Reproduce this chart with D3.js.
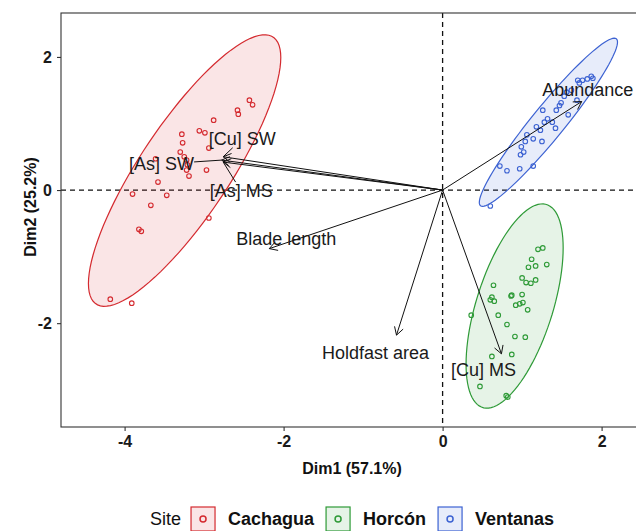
<!DOCTYPE html>
<html>
<head>
<meta charset="utf-8">
<script src="https://cdn.jsdelivr.net/npm/d3@7"></script>
<style>
  html, body { margin: 0; padding: 0; background: #fff; }
  svg { display: block; font-family: Arial, "Liberation Sans", sans-serif; }
</style>
</head>
<body>
<svg id="chart" width="636" height="531"></svg>
<script>
// ---- PCA individual scores, by site ----
const sites = ["Cachagua", "Horcón", "Ventanas"];

const cachaguaDim1 = [-2.43, -2.39, -2.58, -2.57, -2.88, -3.06, -2.99, -3.28, -3.27, -2.94, -3.30, -3.25, -3.22, -3.61,
  -3.21, -3.22, -3.19, -2.97, -3.58, -3.90, -3.47, -3.67, -2.94, -3.82, -3.79, -4.18, -3.91];
const cachaguaDim2 = [1.35, 1.28, 1.20, 1.14, 1.05, 0.89, 0.86, 0.84, 0.71, 0.63, 0.57, 0.50, 0.45, 0.47,
  0.38, 0.30, 0.21, 0.30, 0.12, -0.06, -0.08, -0.23, -0.42, -0.59, -0.62, -1.64, -1.70];

const horconDim1 = [1.20, 1.26, 1.12, 1.31, 1.08, 1.17, 1.00, 1.05, 1.11, 1.17, 0.64, 0.62, 0.60, 0.65, 0.86, 0.87,
  1.00, 0.92, 0.97, 1.01, 1.07, 0.36, 0.70, 0.81, 0.91, 1.04, 0.62, 0.87, 0.47, 0.80, 0.82];
const horconDim2 = [-0.89, -0.87, -1.04, -1.12, -1.16, -1.14, -1.32, -1.39, -1.40, -1.35, -1.43, -1.61, -1.65, -1.67,
  -1.59, -1.58, -1.57, -1.73, -1.71, -1.69, -1.80, -1.88, -1.88, -2.02, -2.20, -2.21, -2.50, -2.47, -2.95, -3.09, -3.11];

const ventanasDim1 = [0.60, 0.72, 0.81, 0.97, 1.14, 0.98, 1.02, 0.99, 1.04, 1.14, 1.25, 1.06, 1.18, 1.23, 1.28, 1.32,
  1.38, 1.42, 1.26, 1.43, 1.47, 1.49, 1.58, 1.53, 1.56, 1.62, 1.69, 1.72, 1.76, 1.82, 1.87, 1.89, 1.70];
const ventanasDim2 = [-0.24, 0.36, 0.29, 0.32, 0.36, 0.53, 0.57, 0.65, 0.73, 0.77, 0.73, 0.83, 0.95, 0.90, 1.02, 1.07,
  1.02, 0.93, 1.20, 1.20, 1.27, 1.31, 1.13, 1.41, 1.47, 1.50, 1.35, 1.61, 1.65, 1.67, 1.71, 1.68, 1.65];

// ---- Variable loadings (arrow tips) ----
const variables = ["Abundance", "[Cu] MS", "Holdfast area", "Blade length", "[As] SW", "[Cu] SW", "[As] MS"];
const loadingDim1 = [1.75, 0.74, -0.58, -2.18, -2.78, -2.76, -2.76];
const loadingDim2 = [1.33, -2.46, -2.18, -0.88, 0.45, 0.50, 0.42];

// ---- Axis ticks and titles ----
const xTicks = [-4, -2, 0, 2];
const yTicks = [-2, 0, 2];
const xTitle = "Dim1 (57.1%)";
const yTitle = "Dim2 (25.2%)";
const legendTitle = "Site";

// ---- Styling / layout ----
const siteColors = ["#D42A2F", "#2E9A37", "#3C62D2"];
const ellipseLevel = 0.95;
// label placement (pixel offset from the arrow tip), repelled-label style
const labelOffset = {
  "Abundance": [6, -12],
  "[Cu] MS": [-18, 16],
  "Holdfast area": [-21, 18],
  "Blade length": [17, -10],
  "[As] SW": [-60, 4],
  "[Cu] SW": [19, -18],
  "[As] MS": [18, 29]
};
const labelSegment = { "[As] SW": true, "[Cu] SW": true, "[As] MS": true };

const svg = d3.select("#chart");
const panel = { left: 61, top: 13, right: 641, bottom: 427 };

const x = d3.scaleLinear().domain([-4.8, 2.5]).range([panel.left, panel.left + 7.3 * 79.5]);
const y = d3.scaleLinear().domain([-3.56, 2.66]).range([panel.bottom, panel.top]);

const groups = [
  { site: sites[0], xs: cachaguaDim1, ys: cachaguaDim2, color: siteColors[0] },
  { site: sites[1], xs: horconDim1, ys: horconDim2, color: siteColors[1] },
  { site: sites[2], xs: ventanasDim1, ys: ventanasDim2, color: siteColors[2] }
];

// clip region for the plotting panel
svg.append("defs").append("clipPath").attr("id", "panelClip")
  .append("rect")
  .attr("x", panel.left).attr("y", panel.top)
  .attr("width", panel.right - panel.left).attr("height", panel.bottom - panel.top);

const plot = svg.append("g").attr("clip-path", "url(#panelClip)");

// reference lines at zero
plot.append("line")
  .attr("x1", panel.left).attr("x2", panel.right)
  .attr("y1", y(0)).attr("y2", y(0))
  .attr("stroke", "#111").attr("stroke-width", 1.3).attr("stroke-dasharray", "5,4");
plot.append("line")
  .attr("x1", x(0)).attr("x2", x(0))
  .attr("y1", panel.top).attr("y2", panel.bottom)
  .attr("stroke", "#111").attr("stroke-width", 1.3).attr("stroke-dasharray", "5,4");

// normal-theory concentration ellipse (same construction as stat_ellipse type "norm")
function ellipsePoints(xs, ys, level) {
  const n = xs.length;
  const mx = d3.mean(xs), my = d3.mean(ys);
  let sxx = 0, syy = 0, sxy = 0;
  for (let i = 0; i < n; i++) {
    const dx = xs[i] - mx, dy = ys[i] - my;
    sxx += dx * dx; syy += dy * dy; sxy += dx * dy;
  }
  sxx /= (n - 1); syy /= (n - 1); sxy /= (n - 1);
  const dfd = n - 1;
  // F(2, dfd) quantile in closed form
  const fq = dfd / 2 * (Math.pow(1 - level, -2 / dfd) - 1);
  const r = Math.sqrt(2 * fq);
  const a = Math.sqrt(sxx), b = sxy / a, c = Math.sqrt(Math.max(syy - b * b, 0));
  const pts = [];
  for (let k = 0; k <= 100; k++) {
    const t = (k / 100) * 2 * Math.PI;
    const u = Math.cos(t), v = Math.sin(t);
    pts.push([mx + r * u * a, my + r * (u * b + v * c)]);
  }
  return pts;
}

const ellLine = d3.line().x(d => x(d[0])).y(d => y(d[1]));

groups.forEach(g => {
  plot.append("path")
    .attr("d", ellLine(ellipsePoints(g.xs, g.ys, ellipseLevel)) + "Z")
    .attr("fill", g.color).attr("fill-opacity", 0.12)
    .attr("stroke", g.color).attr("stroke-width", 1.2);
});

// individual scores
groups.forEach(g => {
  plot.append("g").selectAll("circle")
    .data(d3.range(g.xs.length))
    .join("circle")
    .attr("cx", i => x(g.xs[i]))
    .attr("cy", i => y(g.ys[i]))
    .attr("r", 2.3)
    .attr("fill", "none")
    .attr("stroke", g.color)
    .attr("stroke-width", 1.1);
});

// variable arrows
const arrows = plot.append("g");
variables.forEach((name, i) => {
  const x0 = x(0), y0 = y(0);
  const x1 = x(loadingDim1[i]), y1 = y(loadingDim2[i]);
  arrows.append("line")
    .attr("x1", x0).attr("y1", y0).attr("x2", x1).attr("y2", y1)
    .attr("stroke", "#111").attr("stroke-width", 1);
  const ang = Math.atan2(y1 - y0, x1 - x0);
  const len = 9, spread = Math.PI / 6;
  const p1 = [x1 - len * Math.cos(ang - spread), y1 - len * Math.sin(ang - spread)];
  const p2 = [x1 - len * Math.cos(ang + spread), y1 - len * Math.sin(ang + spread)];
  arrows.append("path")
    .attr("d", `M${p1[0]},${p1[1]}L${x1},${y1}L${p2[0]},${p2[1]}`)
    .attr("fill", "none").attr("stroke", "#111").attr("stroke-width", 1);
});

// variable labels
const labels = plot.append("g");
variables.forEach((name, i) => {
  const tx = x(loadingDim1[i]), ty = y(loadingDim2[i]);
  const off = labelOffset[name];
  const cx = tx + off[0], cy = ty + off[1];
  const t = labels.append("text")
    .attr("x", cx).attr("y", cy)
    .attr("text-anchor", "middle")
    .attr("dominant-baseline", "central")
    .attr("font-size", 18)
    .attr("fill", "#1a1a1a")
    .text(name);
  if (labelSegment[name]) {
    const bb = t.node().getBBox();
    const vx = tx - cx, vy = ty - cy;
    const s = Math.min(
      vx !== 0 ? (bb.width / 2) / Math.abs(vx) : Infinity,
      vy !== 0 ? (bb.height / 2 - 1) / Math.abs(vy) : Infinity
    );
    if (s < 1) {
      labels.append("line")
        .attr("x1", cx + vx * s).attr("y1", cy + vy * s)
        .attr("x2", tx).attr("y2", ty)
        .attr("stroke", "#111").attr("stroke-width", 1);
    }
  }
});

// panel border
svg.append("rect")
  .attr("x", panel.left).attr("y", panel.top)
  .attr("width", panel.right - panel.left).attr("height", panel.bottom - panel.top)
  .attr("fill", "none").attr("stroke", "#333").attr("stroke-width", 1.1);

// axes (plain hyphen for negative tick labels)
const tickFmt = d => String(d);
const xAxis = svg.append("g")
  .attr("transform", `translate(0,${panel.bottom})`)
  .call(d3.axisBottom(x).tickValues(xTicks).tickSize(4).tickPadding(5).tickFormat(tickFmt));
const yAxis = svg.append("g")
  .attr("transform", `translate(${panel.left},0)`)
  .call(d3.axisLeft(y).tickValues(yTicks).tickSize(4).tickPadding(5).tickFormat(tickFmt));
[xAxis, yAxis].forEach(a => {
  a.select(".domain").remove();
  a.selectAll(".tick line").attr("stroke", "#333").attr("stroke-width", 1.1);
  a.selectAll(".tick text")
    .attr("fill", "#1a1a1a")
    .attr("font-size", 16)
    .attr("font-weight", "bold")
    .attr("font-family", "Arial, 'Liberation Sans', sans-serif");
});

// axis titles
svg.append("text")
  .attr("x", (panel.left + panel.right) / 2 + 1).attr("y", 474)
  .attr("text-anchor", "middle")
  .attr("font-size", 16).attr("font-weight", "bold").attr("fill", "#111")
  .text(xTitle);
svg.append("text")
  .attr("transform", `translate(30,${207}) rotate(-90)`)
  .attr("text-anchor", "middle")
  .attr("dominant-baseline", "central")
  .attr("font-size", 16).attr("font-weight", "bold").attr("fill", "#111")
  .text(yTitle);

// legend
const legend = svg.append("g");
const legendY = 519;
let lx = 150;
const lt = legend.append("text")
  .attr("x", lx).attr("y", legendY)
  .attr("dominant-baseline", "central")
  .attr("font-size", 18).attr("fill", "#111")
  .text(legendTitle);
lx += lt.node().getComputedTextLength() + 10;
groups.forEach(g => {
  const key = 24;
  legend.append("rect")
    .attr("x", lx).attr("y", legendY - key / 2)
    .attr("width", key).attr("height", key)
    .attr("fill", g.color).attr("fill-opacity", 0.12)
    .attr("stroke", g.color).attr("stroke-width", 1.2);
  legend.append("circle")
    .attr("cx", lx + key / 2).attr("cy", legendY)
    .attr("r", 3).attr("fill", "none")
    .attr("stroke", g.color).attr("stroke-width", 1.5);
  lx += key + 13;
  const t = legend.append("text")
    .attr("x", lx).attr("y", legendY)
    .attr("dominant-baseline", "central")
    .attr("font-size", 18).attr("font-weight", "bold").attr("fill", "#111")
    .text(g.site);
  lx += t.node().getComputedTextLength() + 12;
});
</script>
</body>
</html>
